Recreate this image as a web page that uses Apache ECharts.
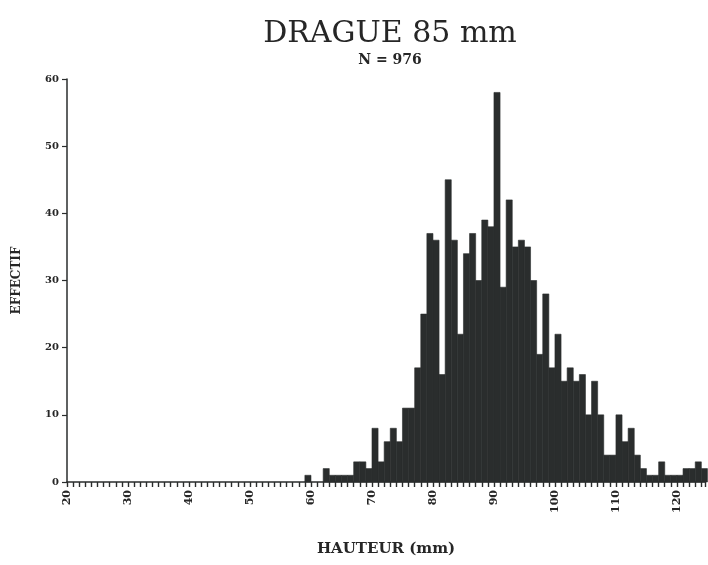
<!DOCTYPE html>
<html>
<head>
<meta charset="utf-8">
<script src="https://cdn.jsdelivr.net/npm/echarts@6/dist/echarts.min.js"></script>
<style>
html,body{margin:0;padding:0;background:#ffffff;}
#chart{width:708px;height:565px;}
</style>
</head>
<body>
<div id="chart"></div>
<script>
// Bin start values (mm), each bin is [start, start+1)
const bins = [20,21,22,23,24,25,26,27,28,29,30,31,32,33,34,35,36,37,38,39,
  40,41,42,43,44,45,46,47,48,49,50,51,52,53,54,55,56,57,58,59,
  60,61,62,63,64,65,66,67,68,69,70,71,72,73,74,75,76,77,78,79,
  80,81,82,83,84,85,86,87,88,89,90,91,92,93,94,95,96,97,98,99,
  100,101,102,103,104,105,106,107,108,109,110,111,112,113,114,115,116,117,118,119,
  120,121,122,123,124];
// Counts (EFFECTIF) per bin
const counts = [0,0,0,0,0,0,0,0,0,0,0,0,0,0,0,0,0,0,0,0,
  0,0,0,0,0,0,0,0,0,0,0,0,0,0,0,0,0,0,0,1,
  0,0,2,1,1,1,1,3,3,2,8,3,6,8,6,11,11,17,25,37,
  36,16,45,36,22,34,37,30,39,38,58,29,42,35,36,35,30,19,28,17,
  22,15,17,15,16,10,15,10,4,4,10,6,8,4,2,1,1,3,1,1,
  1,2,2,3,2];
const xTickLabels = [20,30,40,50,60,70,80,90,100,110,120];
const yTicks = [0,10,20,30,40,50,60];

const data = bins.map((b, i) => [b, counts[i]]);
const chart = echarts.init(document.getElementById('chart'), null, {renderer:'canvas'});
const ink = '#2a2d2d';
const serif = '"DejaVu Serif", "Liberation Serif", serif';

chart.setOption({
  backgroundColor: '#ffffff',
  animation: false,
  title: [
    {text: 'DRAGUE 85 mm', left: 385, top: 14, textAlign: 'center',
     textStyle: {fontFamily: serif, fontWeight: 'normal', fontSize: 30, color: '#262626'}},
    {text: 'N = 976', left: 385, top: 48, textAlign: 'center',
     textStyle: {fontFamily: serif, fontWeight: 'bold', fontSize: 14, color: '#262626'}}
  ],
  grid: {left: 67, right: 3, top: 79, bottom: 83},
  xAxis: {
    type: 'value', min: xTickLabels[0], max: 124.6, interval: 1,
    name: 'HAUTEUR (mm)', nameLocation: 'middle', nameGap: 60,
    nameTextStyle: {fontFamily: serif, fontWeight: 'bold', fontSize: 15, color: '#262626'},
    axisLine: {show: true, lineStyle: {color: ink, width: 1.5}},
    axisTick: {show: true, length: 5, lineStyle: {color: ink, width: 1.4}},
    axisLabel: {
      rotate: 90, margin: 8, fontFamily: serif, fontWeight: 'bold', fontSize: 11, color: '#262626',
      formatter: v => (xTickLabels.indexOf(v) >= 0 ? String(v) : '')
    },
    splitLine: {show: false}
  },
  yAxis: {
    type: 'value', min: yTicks[0], max: yTicks[yTicks.length-1], interval: 10,
    name: 'EFFECTIF', nameLocation: 'middle', nameGap: 44,
    nameTextStyle: {fontFamily: serif, fontWeight: 'bold', fontSize: 12, color: '#262626'},
    axisLine: {show: true, lineStyle: {color: ink, width: 1.5}},
    axisTick: {show: true, length: 5, lineStyle: {color: ink, width: 1.2}},
    axisLabel: {margin: 8, fontFamily: serif, fontWeight: 'bold', fontSize: 10, color: '#262626'},
    splitLine: {show: false}
  },
  series: [{
    type: 'custom',
    clip: false,
    data: data,
    renderItem: function (params, api) {
      const x0 = api.value(0), c = api.value(1);
      if (c <= 0) return null;
      const p0 = api.coord([x0, c]);
      const p1 = api.coord([x0 + 1, 0]);
      return {
        type: 'rect',
        shape: {x: p0[0], y: p0[1], width: p1[0] - p0[0], height: p1[1] - p0[1]},
        style: {fill: ink, stroke: ink, lineWidth: 0.6}
      };
    }
  }]
});
</script>
</body>
</html>
